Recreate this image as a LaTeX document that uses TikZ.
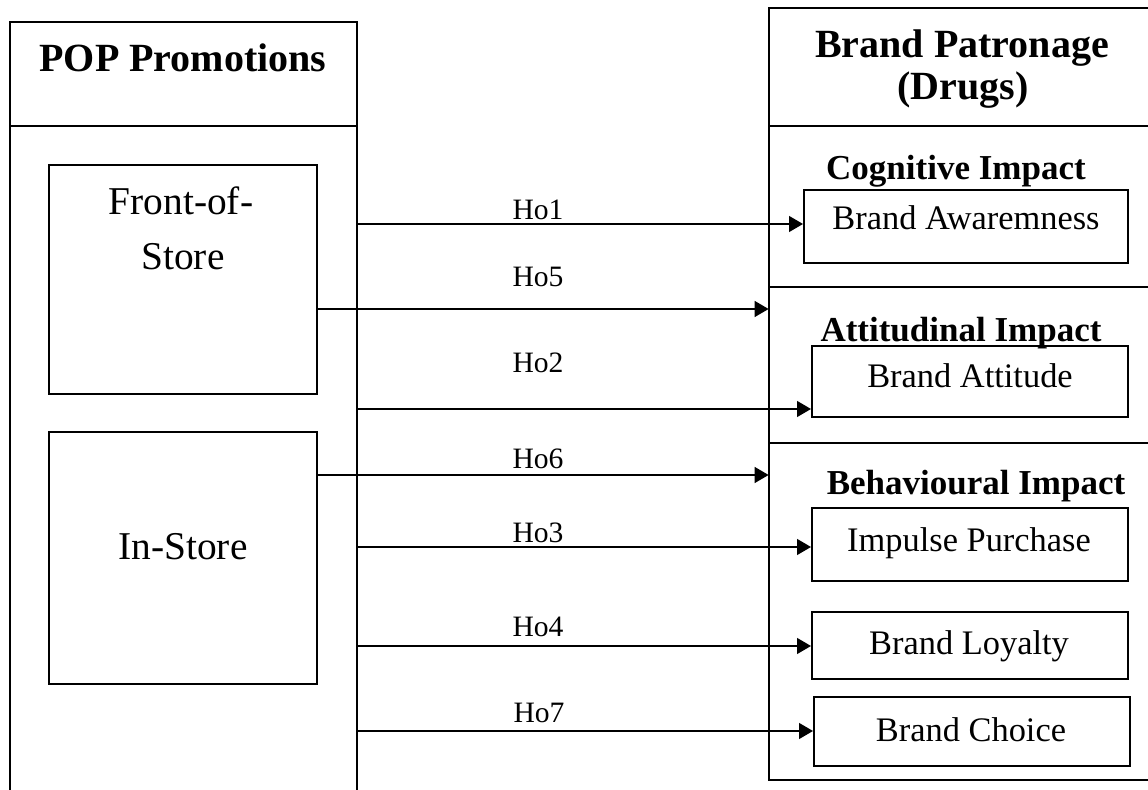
\documentclass[tikz,border=0pt]{standalone}
\usepackage{fontspec}
\setmainfont{Liberation Serif}
\usetikzlibrary{arrows.meta,fit}
\begin{document}
\begin{tikzpicture}[x=0.5pt,y=-0.5pt,
  frame/.style={line width=1pt},
  box/.style={draw,line width=1pt,inner sep=0pt},
  area/.style={inner sep=0pt},
  link/.style={line width=0.7pt,-{Triangle[length=7pt,width=8pt]}},
  head/.style={font=\fontsize{20}{24}\selectfont\bfseries,anchor=base,inner sep=0pt},
  sub/.style={font=\fontsize{17.5}{21}\selectfont\bfseries,anchor=base,inner sep=0pt},
  main/.style={font=\fontsize{19.7}{24}\selectfont,anchor=base,inner sep=0pt},
  item/.style={font=\fontsize{17.2}{20}\selectfont,anchor=base,inner sep=0pt},
  hyp/.style={font=\fontsize{14.8}{18}\selectfont,anchor=base,inner sep=0pt}]
\useasboundingbox[clip] (0,0) rectangle (1148,790);
\fill[white] (0,0) rectangle (1148,790);

% ---- left panel: POP promotions ----
\node[area,fit={(10,22)(357,790)}] (pop) {};
\draw[frame] (10,795) -- (10,22) -- (357,22) -- (357,795);
\draw[frame] (10,126) -- (357,126);
\node[head] (popt) at (183,72) {POP Promotions};

\node[box,fit={(49,165)(317,394)}] (fos) {};
\node[main] (fost1) at (181,215) {Front-of-};
\node[main] (fost2) at (183,270) {Store};

\node[box,fit={(49,432)(317,684)}] (ins) {};
\node[main] (inst) at (183,560) {In-Store};

% ---- right panel: brand patronage ----
\node[area,fit={(769,8)(1148,780)}] (bp) {};
\draw[frame] (1152,8) -- (769,8) -- (769,780) -- (1152,780);
\draw[frame] (769,126) -- (1152,126);
\draw[frame] (769,287) -- (1152,287);
\draw[frame] (769,443) -- (1152,443);
\node[head] (bpt1) at (962,58) {Brand Patronage};
\node[head] (bpt2) at (963,100) {(Drugs)};

\node[sub] (cog) at (956,180) {Cognitive Impact};
\node[sub] (att) at (961,342) {Attitudinal Impact};
\node[sub] (beh) at (976,495) {Behavioural Impact};

\node[box,fit={(804,190)(1128,263)}] (aw) {};
\node[item] (awt) at (966,230) {Brand Awaremness};
\node[box,fit={(812,346)(1128,417)}] (ba) {};
\node[item] (bat) at (970,388) {Brand Attitude};
\node[box,fit={(812,508)(1128,581)}] (ip) {};
\node[item] (ipt) at (969,552) {Impulse Purchase};
\node[box,fit={(812,612)(1128,679)}] (bl) {};
\node[item] (blt) at (969,655) {Brand Loyalty};
\node[box,fit={(814,697)(1130,766)}] (bc) {};
\node[item] (bct) at (971,742) {Brand Choice};

% ---- hypothesis rows ----
\coordinate (r1) at (0,224);
\coordinate (r5) at (0,309);
\coordinate (r2) at (0,409);
\coordinate (r6) at (0,475);
\coordinate (r3) at (0,547);
\coordinate (r4) at (0,646);
\coordinate (r7) at (0,731);

\draw[link] (pop.east |- r1) -- (aw.west |- r1);
\draw[link] (fos.east |- r5) -- (bp.west |- r5);
\draw[link] (pop.east |- r2) -- (ba.west |- r2);
\draw[link] (ins.east |- r6) -- (bp.west |- r6);
\draw[link] (pop.east |- r3) -- (ip.west |- r3);
\draw[link] (pop.east |- r4) -- (bl.west |- r4);
\draw[link] (pop.east |- r7) -- (bc.west |- r7);

\node[hyp] (h1) at (538,220) {Ho1};
\node[hyp] (h5) at (538,287) {Ho5};
\node[hyp] (h2) at (538,373) {Ho2};
\node[hyp] (h6) at (538,469) {Ho6};
\node[hyp] (h3) at (538,543) {Ho3};
\node[hyp] (h4) at (538,637) {Ho4};
\node[hyp] (h7) at (539,723) {Ho7};
\end{tikzpicture}
\end{document}
